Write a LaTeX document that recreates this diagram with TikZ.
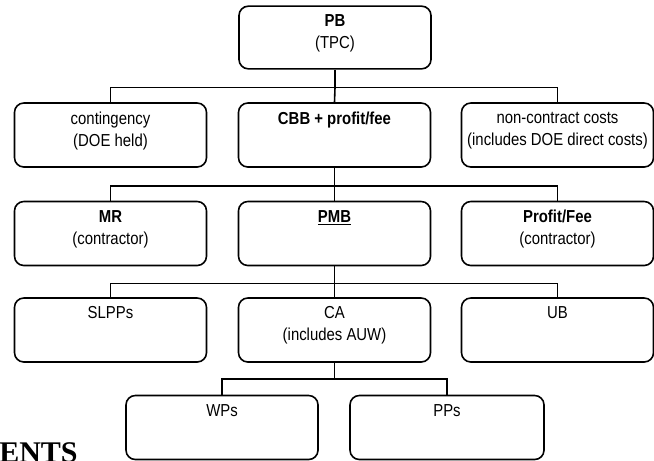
\documentclass[tikz,border=0pt]{standalone}
\usepackage{fontspec}
\setmainfont{Liberation Sans}[FakeStretch=0.86]
\newfontfamily\headfont{Liberation Serif}
\usepackage{tikz}

\begin{document}
\begin{tikzpicture}[x=0.75pt,y=-0.75pt,
    unit/.style={draw,line width=1.2pt,rounded corners=7pt,minimum width=144pt,minimum height=48pt,inner sep=0pt},
    lbl/.style={anchor=north,align=center,inner sep=0pt,font=\fontsize{13}{16.5}\selectfont},
    bus/.style={line width=1.2pt}]
  \useasboundingbox (0,0) rectangle (654,461);
  \clip (0,0) rectangle (654,461);
  % boxes
  \node[unit,minimum height=47pt] (pb) at (335,37.5) {};
  \node[unit] (cont) at (110.5,135) {};
  \node[unit] (cbb)  at (334.5,135) {};
  \node[unit] (ncc)  at (557.5,135) {};
  \node[unit] (mr)   at (110.5,233.5) {};
  \node[unit] (pmb)  at (334.5,233.5) {};
  \node[unit] (fee)  at (557.5,233.5) {};
  \node[unit] (slpp) at (110.5,330) {};
  \node[unit] (ca)   at (334.5,330) {};
  \node[unit] (ub)   at (557.5,330) {};
  \node[unit] (wp)   at (222,427.5) {};
  \node[unit,minimum width=145.5pt] (pp) at (447,427.5) {};
  % texts
  \node[lbl] (pbt)   at ([yshift=-7pt]pb.north)   {\textbf{PB}\\(TPC)};
  \node[lbl] (contt) at ([yshift=-7pt]cont.north) {contingency\\(DOE held)};
  \node[lbl] (cbbt)  at ([yshift=-7pt]cbb.north)  {\textbf{CBB + profit/fee}};
  \node[lbl] (ncct)  at ([yshift=-7pt]ncc.north)  {non-contract costs\\(includes DOE direct costs)};
  \node[lbl] (mrt)   at ([yshift=-7pt]mr.north)   {\textbf{MR}\\(contractor)};
  \node[lbl] (pmbt)  at ([yshift=-7pt]pmb.north)  {\underline{\textbf{PMB}}};
  \node[lbl] (feet)  at ([yshift=-7pt]fee.north)  {\textbf{Profit/Fee}\\(contractor)};
  \node[lbl] (slppt) at ([yshift=-7pt]slpp.north) {SLPPs};
  \node[lbl] (cat)   at ([yshift=-7pt]ca.north)   {CA\\(includes AUW)};
  \node[lbl] (ubt)   at ([yshift=-7pt]ub.north)   {UB};
  \node[lbl] (wpt)   at ([yshift=-7pt]wp.north)   {WPs};
  \node[lbl] (ppt)   at ([yshift=-7pt]pp.north)   {PPs};
  % connectors
  \draw[bus] (pb.south) -- ++(0,18) coordinate (j1);
  \draw[bus] (j1) -| (cont.north);
  \draw[bus] (j1) -| (ncc.north);
  \draw[bus] (j1) -- (cbb.north);
  \draw[bus] (cbb.south) -- ++(0,18) coordinate (j2);
  \draw[bus] (j2) -| (mr.north);
  \draw[bus] (j2) -| (fee.north);
  \draw[bus] (j2) -- (pmb.north);
  \draw[bus] (pmb.south) -- ++(0,17) coordinate (j3);
  \draw[bus] (j3) -| (slpp.north);
  \draw[bus] (j3) -| (ub.north);
  \draw[bus] (j3) -- (ca.north);
  \draw[bus] (ca.south) -- ++(0,16) coordinate (j4);
  \draw[bus] (j4) -| (wp.north);
  \draw[bus] (j4) -| (pp.north);
  % cut-off heading
  \node[anchor=north west,inner sep=0pt,font=\headfont\bfseries\fontsize{22.5}{22.5}\selectfont] (ents) at (-1,442) {ENTS};
\end{tikzpicture}
\end{document}
